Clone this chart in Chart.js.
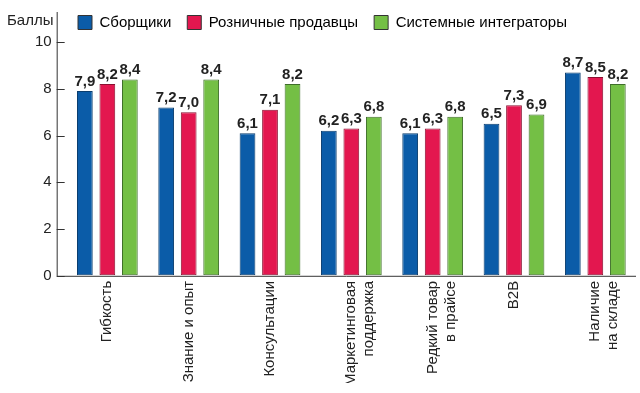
<!DOCTYPE html>
<html>
<head>
<meta charset="utf-8">
<script src="https://cdn.jsdelivr.net/npm/chart.js@4"></script>
<style>
  html, body { margin: 0; padding: 0; background: #fff; }
  #wrap { width: 640px; height: 393px; }
</style>
</head>
<body>
<div id="wrap"><canvas id="chart"></canvas></div>
<script>
const categories = [
    'Гибкость',
    'Знание и опыт',
    'Консультации',
    ['Маркетинговая', 'поддержка'],
    ['Редкий товар', 'в прайсе'],
    'B2B',
    ['Наличие', 'на складе']
];
const seriesNames = ['Сборщики', 'Розничные продавцы', 'Системные интеграторы'];
const assemblers = [7.9, 7.2, 6.1, 6.2, 6.1, 6.5, 8.7];
const retailers = [8.2, 7.0, 7.1, 6.3, 6.3, 7.3, 8.5];
const integrators = [8.4, 8.4, 8.2, 6.8, 6.8, 6.9, 8.2];
const yTicks = [0, 2, 4, 6, 8, 10];

const FONT = '"Liberation Sans", Arial, sans-serif';

// nudge the legend so it sits right of "Баллы", on the axis top line
const legendShift = {
    id: 'legendShift',
    afterLayout(chart) {
        chart.legend.left = 62;
        chart.legend.top = -1;
    }
};

// axis line and inward tick marks sit a bit left of the plot, like the original
const axisPlugin = {
    id: 'axisPlugin',
    afterDraw(chart) {
        const { ctx, chartArea, scales } = chart;
        const x0 = chartArea.left - 10;
        ctx.save();
        ctx.strokeStyle = '#333';
        ctx.lineWidth = 1;
        ctx.beginPath();
        ctx.moveTo(x0 + 0.5, 12);
        ctx.lineTo(x0 + 0.5, chartArea.bottom + 0.5);
        ctx.lineTo(chartArea.right, chartArea.bottom + 0.5);
        yTicks.forEach(v => {
            const y = Math.round(scales.y.getPixelForValue(v)) + 0.5;
            ctx.moveTo(x0, y);
            ctx.lineTo(x0 + 8, y);
        });
        ctx.stroke();

        ctx.fillStyle = '#222';
        ctx.font = '15px ' + FONT;
        ctx.textAlign = 'left';
        ctx.textBaseline = 'middle';
        ctx.fillText('Баллы', 7, 21);
        ctx.restore();
    }
};

const valueLabels = {
    id: 'valueLabels',
    afterDatasetsDraw(chart) {
        const { ctx } = chart;
        ctx.save();
        ctx.fillStyle = '#222';
        ctx.font = 'bold 15px ' + FONT;
        ctx.textAlign = 'center';
        ctx.textBaseline = 'bottom';
        chart.data.datasets.forEach((ds, i) => {
            chart.getDatasetMeta(i).data.forEach((bar, j) => {
                ctx.fillText(ds.data[j].toFixed(1).replace('.', ','), bar.x, bar.y - 2);
            });
        });
        ctx.restore();
    }
};

new Chart(document.getElementById('chart'), {
    type: 'bar',
    data: {
        labels: categories,
        datasets: [
            { label: seriesNames[0], data: assemblers, backgroundColor: '#0b5ca8', borderColor: '#0a3d6e' },
            { label: seriesNames[1], data: retailers, backgroundColor: '#e3174f', borderColor: '#8a1030' },
            { label: seriesNames[2], data: integrators, backgroundColor: '#74bf45', borderColor: '#3f6e2a' }
        ]
    },
    options: {
        responsive: true,
        maintainAspectRatio: false,
        animation: false,
        layout: { padding: { left: 32, right: 4, top: 0, bottom: 10 } },
        datasets: {
            bar: {
                borderWidth: 1,
                borderSkipped: false,
                categoryPercentage: 0.83,
                barPercentage: 0.7
            }
        },
        plugins: {
            tooltip: { enabled: false },
            legend: {
                position: 'top',
                align: 'start',
                maxHeight: 35,
                labels: {
                    boxWidth: 14,
                    boxHeight: 14,
                    padding: 16,
                    color: '#222',
                    font: { family: FONT, size: 15 },
                    generateLabels(chart) {
                        return chart.data.datasets.map((ds, i) => ({
                            text: ds.label,
                            fillStyle: ds.backgroundColor,
                            strokeStyle: '#333',
                            lineWidth: 1,
                            datasetIndex: i
                        }));
                    }
                }
            }
        },
        scales: {
            x: {
                border: { display: false },
                grid: { display: false },
                ticks: {
                    color: '#222',
                    font: { family: FONT, size: 15 },
                    maxRotation: 90,
                    minRotation: 90,
                    padding: -3
                }
            },
            y: {
                min: 0,
                max: 10.3,
                border: { display: false },
                grid: { drawOnChartArea: false, drawTicks: true, tickLength: 12, tickColor: 'rgba(0,0,0,0)' },
                afterBuildTicks(scale) {
                    scale.ticks = yTicks.map(v => ({ value: v }));
                },
                ticks: {
                    color: '#222',
                    font: { family: FONT, size: 15 },
                    padding: 3
                }
            }
        }
    },
    plugins: [legendShift, axisPlugin, valueLabels]
});
</script>
</body>
</html>
